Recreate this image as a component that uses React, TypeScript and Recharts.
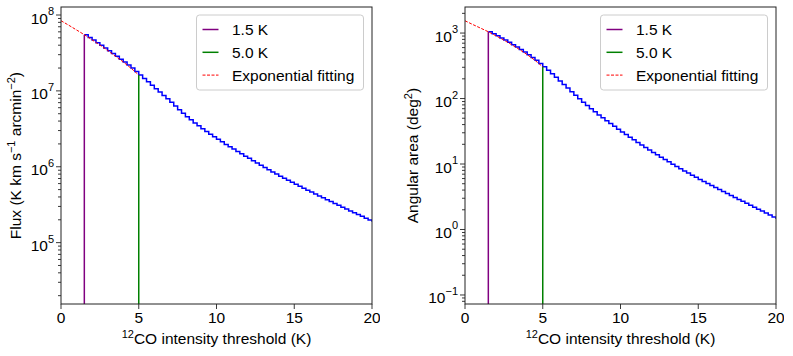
import React from "react";
import { LineChart, Line, XAxis, YAxis } from "recharts";

// thresholds of the step curves (K)
const thresholds = [
  1.5, 1.75, 2, 2.25, 2.5, 2.75, 3, 3.25, 3.5, 3.75,
  4, 4.25, 4.5, 4.75, 5, 5.25, 5.5, 5.75, 6, 6.25,
  6.5, 6.75, 7, 7.25, 7.5, 7.75, 8, 8.25, 8.5, 8.75,
  9, 9.25, 9.5, 9.75, 10, 10.25, 10.5, 10.75, 11, 11.25,
  11.5, 11.75, 12, 12.25, 12.5, 12.75, 13, 13.25, 13.5, 13.75,
  14, 14.25, 14.5, 14.75, 15, 15.25, 15.5, 15.75, 16, 16.25,
  16.5, 16.75, 17, 17.25, 17.5, 17.75, 18, 18.25, 18.5, 18.75,
  19, 19.25, 19.5, 19.75, 20,
];

// flux above threshold (K km s^-1 arcmin^-2)
const fluxValues = [
  5.5e7, 5.07e7, 4.68e7, 4.32e7, 3.98e7, 3.67e7, 3.39e7, 3.11e7, 2.85e7, 2.62e7,
  2.4e7, 2.19e7, 2.0e7, 1.8e7, 1.62e7, 1.46e7, 1.32e7, 1.19e7, 1.07e7, 9.66e6,
  8.71e6, 7.85e6, 7.08e6, 6.31e6, 5.62e6, 5.07e6, 4.57e6, 4.16e6, 3.78e6, 3.46e6,
  3.16e6, 2.92e6, 2.69e6, 2.49e6, 2.3e6, 2.13e6, 1.97e6, 1.83e6, 1.71e6, 1.59e6,
  1.48e6, 1.38e6, 1.29e6, 1.2e6, 1.12e6, 1.05e6, 9.77e5, 9.14e5, 8.55e5, 8.02e5,
  7.52e5, 7.06e5, 6.64e5, 6.25e5, 5.89e5, 5.55e5, 5.22e5, 4.92e5, 4.65e5, 4.38e5,
  4.13e5, 3.9e5, 3.68e5, 3.48e5, 3.28e5, 3.1e5, 2.93e5, 2.77e5, 2.62e5, 2.48e5,
  2.34e5, 2.22e5, 2.1e5, 1.99e5, 1.88e5,
];

// angular area above threshold (deg^2)
const areaValues = [
  1050, 977, 906, 841, 780, 721, 665, 612, 562, 513,
  468, 425, 383, 343, 305, 270, 239, 211, 186, 164,
  145, 127, 112, 99.3, 88.1, 78.5, 70.0, 62.7, 56.2, 50.7,
  45.7, 41.4, 37.6, 34.0, 30.9, 28.2, 25.7, 23.4, 21.4, 19.5,
  17.9, 16.4, 15.0, 13.8, 12.7, 11.7, 10.8, 9.95, 9.18, 8.49,
  7.85, 7.28, 6.76, 6.27, 5.82, 5.41, 5.04, 4.69, 4.37, 4.07,
  3.8, 3.55, 3.31, 3.09, 2.88, 2.69, 2.51, 2.34, 2.19, 2.04,
  1.91, 1.78, 1.66, 1.55, 1.45,
];

// exponential fit, drawn from 0 to 5 K
const fitX = [0, 0.5, 1, 1.5, 2, 2.5, 3, 3.5, 4, 4.5, 5];
const fluxFit = [8.41e7, 7.33e7, 6.35e7, 5.5e7, 4.7e7, 4.01e7, 3.4e7, 2.87e7, 2.41e7, 1.99e7, 1.62e7];
const areaFit = [1540, 1350, 1190, 1047, 906, 780, 665, 562, 468, 383, 305];

// threshold markers
const markerK = [1.5, 5.0];
const markerLabels = ["1.5 K", "5.0 K"];
const markerColors = ["#800080", "#008000"];
const fluxMarkerTops = [5.5e7, 1.62e7];
const areaMarkerTops = [1050, 305];

const xTicks = [0, 5, 10, 15, 20];
const fluxDomain: [number, number] = [1.553e4, 1.275e8];
const areaDomain: [number, number] = [0.0728, 2500];

const FONT = '"Liberation Sans", Arial, Helvetica, sans-serif';
const FS = 15.5;

const toPoints = (xs: number[], ys: number[]) => xs.map((x, i) => ({ x, y: ys[i] }));

// decade ticks with minor ticks at 2..9
function logTicks(domain: [number, number]) {
  const out: number[] = [];
  const lo = Math.floor(Math.log10(domain[0]));
  const hi = Math.floor(Math.log10(domain[1]));
  for (let d = lo; d <= hi; d++) {
    for (let m = 1; m <= 9; m++) {
      const v = m * Math.pow(10, d);
      if (v >= domain[0] && v <= domain[1]) out.push(v);
    }
  }
  return out;
}

const renderYTick = (props: any) => {
  const { x, y, payload } = props;
  const v = payload.value;
  const e = Math.round(Math.log10(v));
  const major = Math.abs(v - Math.pow(10, e)) < 1e-6 * v;
  return (
    <g>
      <line x1={x - (major ? 5 : 3)} x2={x} y1={y} y2={y} stroke="#222" strokeWidth={0.9} />
      {major && (
        <text x={x - 7} y={y + 8.5} textAnchor="end" fontSize={FS} fontFamily={FONT} fill="#000">
          10
          <tspan dy={-8.5} fontSize={11}>
            {e < 0 ? "\u2212" + -e : String(e)}
          </tspan>
        </text>
      )}
    </g>
  );
};

const renderXTick = (props: any) => {
  const { x, y, payload } = props;
  return (
    <g>
      <line x1={x} x2={x} y1={y} y2={y + 5} stroke="#222" strokeWidth={0.9} />
      <text x={x} y={y + 18.5} textAnchor="middle" fontSize={FS} fontFamily={FONT} fill="#000">
        {payload.value}
      </text>
    </g>
  );
};

function Panel(props: {
  left: number;
  width: number;
  axisWidth: number;
  values: number[];
  fit: number[];
  tops: number[];
  domain: [number, number];
}) {
  const { left, width, axisWidth, values, fit, tops, domain } = props;
  return (
    <div style={{ position: "absolute", left, top: 0 }}>
      <LineChart width={width} height={356} margin={{ top: 7, right: 8, bottom: 0, left: 0 }}>
        <XAxis
          type="number"
          dataKey="x"
          domain={[0, 20]}
          ticks={xTicks}
          interval={0}
          axisLine={false}
          tickLine={false}
          tickSize={0}
          tickMargin={0}
          height={52}
          tick={renderXTick}
          allowDataOverflow
        />
        <YAxis
          type="number"
          scale="log"
          domain={domain}
          ticks={logTicks(domain)}
          interval={0}
          axisLine={false}
          tickLine={false}
          tickSize={0}
          tickMargin={0}
          width={axisWidth}
          tick={renderYTick}
          allowDataOverflow
        />
        <Line
          data={toPoints(thresholds, values)}
          dataKey="y"
          type="stepAfter"
          stroke="#0000ff"
          strokeWidth={1.5}
          dot={false}
          isAnimationActive={false}
        />
        {markerK.map((k, i) => (
          <Line
            key={k}
            data={[
              { x: k, y: domain[0] / 10 },
              { x: k, y: tops[i] },
            ]}
            dataKey="y"
            type="linear"
            stroke={markerColors[i]}
            strokeWidth={1.5}
            dot={false}
            isAnimationActive={false}
          />
        ))}
        <Line
          data={toPoints(fitX, fit)}
          dataKey="y"
          type="linear"
          stroke="#ff0000"
          strokeWidth={1}
          strokeDasharray="3 1.5"
          dot={false}
          isAnimationActive={false}
        />
      </LineChart>
    </div>
  );
}

function LegendBox({ x }: { x: number }) {
  const rows = [
    { label: markerLabels[0], color: markerColors[0], dash: undefined },
    { label: markerLabels[1], color: markerColors[1], dash: undefined },
    { label: "Exponential fitting", color: "#ff0000", dash: "3 1.5" },
  ];
  return (
    <g>
      <rect x={x} y={15} width={167} height={75} rx={3} fill="#fff" fillOpacity={0.8} stroke="#cccccc" strokeWidth={1} />
      {rows.map((r, i) => {
        const cy = 29.5 + i * 22.8;
        return (
          <g key={r.label}>
            <line
              x1={x + 6}
              x2={x + 22}
              y1={cy}
              y2={cy}
              stroke={r.color}
              strokeWidth={r.dash ? 1 : 1.5}
              strokeDasharray={r.dash}
            />
            <text x={x + 35.5} y={cy + 5.5} fontSize={FS} fontFamily={FONT} fill="#000">
              {r.label}
            </text>
          </g>
        );
      })}
    </g>
  );
}

function XLabel({ cx }: { cx: number }) {
  return (
    <text x={cx} y={344} textAnchor="middle" fontSize={FS} fontFamily={FONT} fill="#000">
      <tspan fontSize={11} dy={-6.5}>
        12
      </tspan>
      <tspan dy={6.5}>CO intensity threshold (K)</tspan>
    </text>
  );
}

export default function App() {
  return (
    <div style={{ position: "absolute", left: 0, top: 0, width: 793, height: 356, background: "#fff" }}>
      <Panel left={0} width={380} axisWidth={61} values={fluxValues} fit={fluxFit} tops={fluxMarkerTops} domain={fluxDomain} />
      <Panel left={400} width={384} axisWidth={65} values={areaValues} fit={areaFit} tops={areaMarkerTops} domain={areaDomain} />
      <svg
        width={793}
        height={356}
        style={{ position: "absolute", left: 0, top: 0, pointerEvents: "none" }}
      >
        <rect x={61} y={7} width={311} height={297} fill="none" stroke="#222" strokeWidth={1} />
        <rect x={465} y={7} width={311} height={297} fill="none" stroke="#222" strokeWidth={1} />

        <text transform="translate(21,155.6) rotate(-90)" textAnchor="middle" fontSize={FS} fontFamily={FONT} fill="#000">
          Flux (K km s
          <tspan fontSize={11} dy={-6}>
            {"\u22121"}
          </tspan>
          <tspan dy={6}> arcmin</tspan>
          <tspan fontSize={11} dy={-6}>
            {"\u22122"}
          </tspan>
          <tspan dy={6}>)</tspan>
        </text>
        <text transform="translate(418,155.6) rotate(-90)" textAnchor="middle" fontSize={FS} fontFamily={FONT} fill="#000">
          Angular area (deg
          <tspan fontSize={11} dy={-6}>
            2
          </tspan>
          <tspan dy={6}>)</tspan>
        </text>

        <XLabel cx={216.5} />
        <XLabel cx={620.5} />

        <LegendBox x={196.5} />
        <LegendBox x={600.5} />
      </svg>
    </div>
  );
}
